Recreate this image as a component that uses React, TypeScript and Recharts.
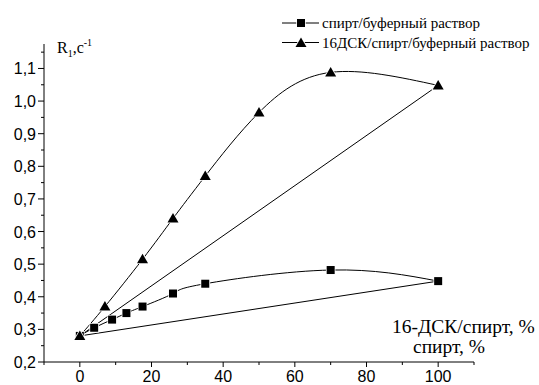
import React from "react";
import { LineChart, Line, XAxis, YAxis } from "recharts";

// ---- data ----
const alcoholX = [0, 4, 9, 13, 17.5, 26, 35, 70, 100];
const alcoholY = [0.28, 0.305, 0.33, 0.35, 0.37, 0.41, 0.44, 0.482, 0.448];
const dskX = [0, 7, 17.5, 26, 35, 50, 70, 100];
const dskY = [0.28, 0.37, 0.515, 0.64, 0.77, 0.965, 1.088, 1.048];
// straight closing lines (first point -> last point)
const alcoholChordX = [0, 100];
const alcoholChordY = [0.28, 0.448];
const dskChordX = [0, 100];
const dskChordY = [0.28, 1.048];

const xTicks = [-10, 0, 10, 20, 30, 40, 50, 60, 70, 80, 90, 100, 110];
const yTicks = [0.2, 0.25, 0.3, 0.35, 0.4, 0.45, 0.5, 0.55, 0.6, 0.65, 0.7, 0.75, 0.8, 0.85, 0.9, 0.95, 1.0, 1.05, 1.1, 1.15];

const legendLabels = ["спирт/буферный раствор", "16ДСК/спирт/буферный раствор"];
const yAxisTitle = { main: "R", sub: "1", mid: ",c", sup: "-1" };
const xAxisTitle1 = "16-ДСК/спирт, %";
const xAxisTitle2 = "спирт, %";

const toPoints = (xs: number[], ys: number[]) => xs.map((x, i) => ({ x, y: ys[i] }));
const alcoholData = toPoints(alcoholX, alcoholY);
const dskData = toPoints(dskX, dskY);
const alcoholChord = toPoints(alcoholChordX, alcoholChordY);
const dskChord = toPoints(dskChordX, dskChordY);

const SANS = "'Liberation Sans', Arial, sans-serif";
const SERIF = "'Liberation Serif', 'Times New Roman', serif";

const YTick = (props: any) => {
  const { x, y, payload } = props;
  const v = payload.value as number;
  const major = Math.abs(Math.round(v * 10) - v * 10) < 1e-6;
  return (
    <g>
      <line x1={x} x2={x - (major ? 6 : 3)} y1={y} y2={y} stroke="#000" strokeWidth={1} />
      {major && (
        <text x={x - 8} y={y + 6} textAnchor="end" style={{ fontFamily: SANS, fontSize: 16 }} fill="#000">
          {v.toFixed(1).replace(".", ",")}
        </text>
      )}
    </g>
  );
};

const XTick = (props: any) => {
  const { x, y, payload } = props;
  const v = payload.value as number;
  const major = v >= 0 && v % 20 === 0;
  return (
    <g>
      <line x1={x} x2={x} y1={y} y2={y + (major ? 5 : 3)} stroke="#000" strokeWidth={1} />
      {major && (
        <text x={x} y={y + 20} textAnchor="middle" style={{ fontFamily: SANS, fontSize: 16 }} fill="#000">
          {String(v)}
        </text>
      )}
    </g>
  );
};

const SquareDot = (props: any) => {
  const { cx, cy, index } = props;
  if (cx == null || cy == null) return <g key={`s-${index}`} />;
  return (
    <rect key={`s-${index}`} x={cx - 4} y={cy - 4} width={8} height={8} fill="#000" stroke="#fff" strokeWidth={1.5} paintOrder="stroke" />
  );
};

const TriangleDot = (props: any) => {
  const { cx, cy, index } = props;
  if (cx == null || cy == null) return <g key={`t-${index}`} />;
  const p = `${cx},${cy - 5.5} ${cx + 5.5},${cy + 4} ${cx - 5.5},${cy + 4}`;
  return <polygon key={`t-${index}`} points={p} fill="#000" stroke="#fff" strokeWidth={1.5} paintOrder="stroke" />;
};

const LegendSquare = () => (
  <g>
    <line x1={282} x2={319} y1={23} y2={23} stroke="#000" strokeWidth={1} />
    <rect x={297} y={19} width={8} height={8} fill="#000" stroke="#fff" strokeWidth={1.5} paintOrder="stroke" />
  </g>
);
const LegendTriangle = () => (
  <g>
    <line x1={282} x2={319} y1={42.5} y2={42.5} stroke="#000" strokeWidth={1} />
    <polygon points="301,37.5 306.5,47 295.5,47" fill="#000" stroke="#fff" strokeWidth={1.5} paintOrder="stroke" />
  </g>
);

const serif = (size: number) => ({ fontFamily: SERIF, fontSize: size });

export default function App() {
  return (
    <div style={{ position: "fixed", left: 0, top: 0, width: 539, height: 385, background: "#fff" }}>
      <LineChart width={539} height={385} margin={{ top: 44, right: 65, left: 0, bottom: 0 }}>
        <XAxis
          type="number"
          dataKey="x"
          domain={[-10, 110]}
          ticks={xTicks}
          interval={0}
          allowDataOverflow
          height={23}
          tickSize={0}
          tickMargin={0}
          tick={<XTick />}
          axisLine={{ stroke: "#000", strokeWidth: 1 }}
          tickLine={false}
        />
        <YAxis
          type="number"
          dataKey="y"
          domain={[0.2, 1.175]}
          ticks={yTicks}
          interval={0}
          allowDataOverflow
          width={44}
          tickSize={0}
          tickMargin={0}
          tick={<YTick />}
          axisLine={{ stroke: "#000", strokeWidth: 1 }}
          tickLine={false}
        />
        <Line data={alcoholChord} dataKey="y" type="linear" stroke="#000" strokeWidth={1} dot={false} isAnimationActive={false} />
        <Line data={dskChord} dataKey="y" type="linear" stroke="#000" strokeWidth={1} dot={false} isAnimationActive={false} />
        <Line data={alcoholData} dataKey="y" type="natural" stroke="#000" strokeWidth={1} dot={SquareDot} isAnimationActive={false} />
        <Line data={dskData} dataKey="y" type="natural" stroke="#000" strokeWidth={1} dot={TriangleDot} isAnimationActive={false} />
      </LineChart>
      <svg width={539} height={385} style={{ position: "absolute", left: 0, top: 0, pointerEvents: "none" }}>
        <text x={57} y={53} style={serif(16)} fill="#000">
          {yAxisTitle.main}
          <tspan style={serif(10)} dy={4}>{yAxisTitle.sub}</tspan>
          <tspan dy={-4}>{yAxisTitle.mid}</tspan>
          <tspan style={serif(10)} dy={-7}>{yAxisTitle.sup}</tspan>
        </text>
        <text x={392} y={333} style={serif(19.5)} fill="#000">{xAxisTitle1}</text>
        <text x={413} y={353} style={serif(19.5)} fill="#000">{xAxisTitle2}</text>
        <LegendSquare />
        <LegendTriangle />
        <text x={322} y={28} style={serif(15)} fill="#000">{legendLabels[0]}</text>
        <text x={322} y={47.5} style={serif(15)} fill="#000">{legendLabels[1]}</text>
      </svg>
    </div>
  );
}
